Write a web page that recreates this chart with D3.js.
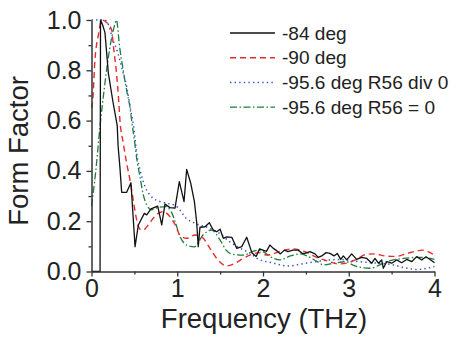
<!DOCTYPE html>
<html>
<head>
<meta charset="utf-8">
<script src="https://cdn.jsdelivr.net/npm/d3@7"></script>
<style>
  html, body { margin: 0; padding: 0; background: #fff; }
  svg { display: block; font-family: "Liberation Sans", Arial, sans-serif; }
</style>
</head>
<body>
<div id="chart"></div>
<script>
// series: [frequency THz, form factor]
const deg84 = [[0,0],[0.1,0],[0.105,1.0],[0.13,0.98],[0.157,0.95],[0.196,0.79],[0.25,0.675],[0.3,0.58],[0.31,0.5],[0.33,0.42],[0.352,0.315],[0.41,0.315],[0.46,0.353],[0.508,0.099],[0.546,0.185],[0.616,0.231],[0.644,0.225],[0.694,0.249],[0.772,0.26],[0.819,0.185],[0.857,0.268],[0.915,0.254],[0.974,0.252],[1.024,0.357],[1.079,0.278],[1.11,0.406],[1.157,0.351],[1.2,0.278],[1.226,0.198],[1.245,0.099],[1.265,0.176],[1.324,0.178],[1.374,0.194],[1.42,0.165],[1.46,0.158],[1.5,0.168],[1.537,0.132],[1.577,0.138],[1.636,0.136],[1.694,0.092],[1.752,0.099],[1.81,0.136],[1.87,0.075],[1.92,0.06],[1.96,0.09],[2.0,0.085],[2.04,0.08],[2.08,0.105],[2.12,0.092],[2.16,0.083],[2.2,0.07],[2.25,0.085],[2.29,0.079],[2.35,0.085],[2.41,0.085],[2.46,0.072],[2.49,0.072],[2.548,0.079],[2.606,0.07],[2.645,0.056],[2.685,0.062],[2.735,0.075],[2.781,0.072],[2.828,0.062],[2.866,0.072],[2.906,0.048],[2.937,0.062],[2.976,0.046],[3.034,0.07],[3.093,0.048],[3.151,0.056],[3.21,0.052],[3.268,0.033],[3.306,0.052],[3.345,0.033],[3.384,0.046],[3.403,0.013],[3.443,0.039],[3.501,0.033],[3.559,0.046],[3.617,0.035],[3.676,0.048],[3.734,0.039],[3.792,0.059],[3.851,0.046],[3.901,0.059],[3.948,0.048],[4.0,0.035]];

const deg90 = [[0,0.65],[0.014,0.68],[0.04,0.84],[0.08,0.94],[0.12,1.0],[0.177,0.99],[0.236,0.96],[0.254,0.9],[0.294,0.78],[0.313,0.7],[0.332,0.6],[0.371,0.51],[0.41,0.43],[0.449,0.364],[0.487,0.284],[0.527,0.205],[0.566,0.168],[0.604,0.165],[0.662,0.185],[0.72,0.212],[0.779,0.231],[0.837,0.238],[0.915,0.218],[0.966,0.192],[1.032,0.145],[1.11,0.132],[1.207,0.145],[1.285,0.138],[1.382,0.092],[1.46,0.052],[1.577,0.022],[1.673,0.033],[1.77,0.052],[1.887,0.07],[1.95,0.075],[2.05,0.065],[2.2,0.08],[2.35,0.09],[2.48,0.08],[2.6,0.06],[2.75,0.042],[2.88,0.03],[3.0,0.035],[3.1,0.05],[3.2,0.068],[3.3,0.07],[3.42,0.062],[3.55,0.06],[3.68,0.072],[3.8,0.082],[3.86,0.085],[3.95,0.075],[4.0,0.065]];

const deg956div = [[0,1.0],[0.15,1.0],[0.2,0.98],[0.25,0.92],[0.29,0.887],[0.37,0.788],[0.41,0.735],[0.45,0.655],[0.49,0.58],[0.51,0.523],[0.527,0.47],[0.566,0.404],[0.625,0.337],[0.7,0.297],[0.8,0.278],[0.88,0.271],[0.98,0.262],[1.11,0.21],[1.22,0.19],[1.38,0.172],[1.5,0.15],[1.61,0.119],[1.72,0.095],[1.86,0.07],[1.93,0.052],[2.1,0.035],[2.3,0.022],[2.45,0.03],[2.6,0.038],[2.75,0.045],[2.9,0.048],[3.05,0.042],[3.25,0.035],[3.5,0.028],[3.65,0.015],[3.8,0.008],[3.9,0.012],[4.0,0.02]];

const deg956zero = [[0,0.26],[0.05,0.4],[0.1,0.58],[0.15,0.73],[0.2,0.86],[0.27,0.98],[0.29,1.0],[0.33,0.887],[0.37,0.8],[0.41,0.72],[0.45,0.65],[0.47,0.595],[0.5,0.523],[0.53,0.443],[0.565,0.377],[0.6,0.311],[0.645,0.264],[0.7,0.245],[0.78,0.255],[0.86,0.258],[0.93,0.238],[0.975,0.198],[1.03,0.141],[1.11,0.105],[1.2,0.098],[1.3,0.145],[1.4,0.165],[1.5,0.125],[1.57,0.085],[1.65,0.068],[1.77,0.065],[1.88,0.08],[1.95,0.085],[2.0,0.079],[2.1,0.056],[2.2,0.046],[2.32,0.062],[2.44,0.07],[2.53,0.059],[2.63,0.04],[2.71,0.026],[2.83,0.033],[2.97,0.039],[3.05,0.025],[3.13,0.017],[3.25,0.013],[3.36,0.026],[3.44,0.039],[3.64,0.052],[3.8,0.056],[3.9,0.055],[4.0,0.048]];

const seriesNames = ["-84 deg", "-90 deg", "-95.6 deg R56 div 0", "-95.6 deg R56 = 0"];
const xTicks = [0, 1, 2, 3, 4];
const xMinor = [0.5, 1.5, 2.5, 3.5];
const yTicks = [0, 0.2, 0.4, 0.6, 0.8, 1.0];
const yMinor = [0.1, 0.3, 0.5, 0.7, 0.9];

let svgWidth = 459, svgHeight = 339;
let margin = {top: 20, right: 24.5, bottom: 67.5, left: 91.5},
    width = svgWidth - margin.left - margin.right,
    height = svgHeight - margin.top - margin.bottom;

let svg = d3.select("#chart").append("svg")
    .attr("width", svgWidth)
    .attr("height", svgHeight);

let x = d3.scaleLinear().domain([0, 4]).range([0, width]),
    y = d3.scaleLinear().domain([0, 1]).range([height, 0]),
    g = svg.append("g").attr("transform", "translate(" + margin.left + "," + margin.top + ")");

let styles = [
  {color: "#111", dash: null, w: 1.3, curve: d3.curveLinear},
  {color: "#e82a2a", dash: "6,4", w: 1.4, curve: d3.curveMonotoneX},
  {color: "#3355cc", dash: "1.4,3.2", w: 1.5, curve: d3.curveMonotoneX},
  {color: "#1c7d3c", dash: "7,2.5,1.5,2.5", w: 1.3, curve: d3.curveMonotoneX}
];
let allSeries = [deg84, deg90, deg956div, deg956zero];

// draw curves (dashed ones under the solid one)
[3, 2, 1, 0].forEach(function(i) {
  let line = d3.line()
    .x(function(d) { return x(d[0]); })
    .y(function(d) { return y(d[1]); })
    .curve(styles[i].curve);
  g.append("path")
    .datum(allSeries[i])
    .attr("fill", "none")
    .attr("stroke", styles[i].color)
    .attr("stroke-width", styles[i].w)
    .attr("stroke-dasharray", styles[i].dash)
    .attr("stroke-linejoin", "round")
    .attr("d", line);
});

// axes
let axisColor = "#333";
function styleAxis(sel) {
  sel.select(".domain").attr("stroke", axisColor).attr("stroke-width", 1.5);
  sel.selectAll(".tick line").attr("stroke", axisColor).attr("stroke-width", 1.3);
  sel.selectAll("text").attr("fill", "#222").attr("font-family", "Liberation Sans, Arial, sans-serif");
}

let xAxis = g.append("g")
    .attr("transform", "translate(0," + height + ")")
    .call(d3.axisBottom(x).tickValues(xTicks).tickSize(5).tickSizeOuter(0).tickPadding(3).tickFormat(d3.format("d")));
styleAxis(xAxis);
xAxis.selectAll("text").attr("font-size", 25);

let xAxisMinor = g.append("g")
    .attr("transform", "translate(0," + height + ")")
    .call(d3.axisBottom(x).tickValues(xMinor).tickSize(3).tickFormat(""));
xAxisMinor.select(".domain").remove();
styleAxis(xAxisMinor);

let yAxis = g.append("g")
    .call(d3.axisLeft(y).tickValues(yTicks).tickSize(5).tickSizeOuter(0).tickPadding(5).tickFormat(d3.format(".1f")));
styleAxis(yAxis);
yAxis.selectAll("text").attr("font-size", 25);

let yAxisMinor = g.append("g")
    .call(d3.axisLeft(y).tickValues(yMinor).tickSize(3).tickFormat(""));
yAxisMinor.select(".domain").remove();
styleAxis(yAxisMinor);

// axis titles
svg.append("text")
    .attr("x", 264)
    .attr("y", 328)
    .attr("text-anchor", "middle")
    .attr("font-size", 27.5)
    .attr("fill", "#222")
    .text("Frequency (THz)");

svg.append("text")
    .attr("transform", "translate(28," + 151 + ") rotate(-90)")
    .attr("text-anchor", "middle")
    .attr("font-size", 27.5)
    .attr("fill", "#222")
    .text("Form Factor");

// legend
let legend = svg.append("g").attr("transform", "translate(230,33)");
seriesNames.forEach(function(name, i) {
  let row = legend.append("g").attr("transform", "translate(0," + (i * 24.7) + ")");
  row.append("line")
    .attr("x1", 0).attr("x2", 45)
    .attr("y1", 0).attr("y2", 0)
    .attr("stroke", styles[i].color)
    .attr("stroke-width", styles[i].w)
    .attr("stroke-dasharray", styles[i].dash);
  row.append("text")
    .attr("transform", "translate(52,6.5) scale(1.06,1)")
    .attr("font-size", 18)
    .attr("fill", "#222")
    .text(name);
});
</script>
</body>
</html>
